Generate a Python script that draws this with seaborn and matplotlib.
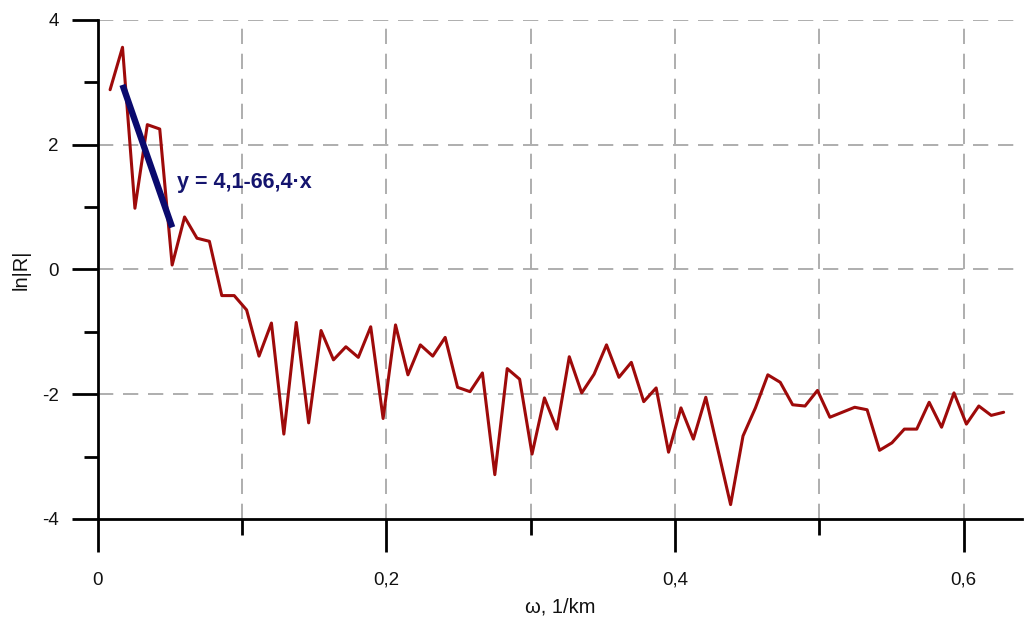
import numpy as np
import pandas as pd
import matplotlib
matplotlib.use("Agg")
import matplotlib.pyplot as plt
from matplotlib.ticker import MultipleLocator, FuncFormatter
import seaborn as sns

# Spectral frequencies, 1/km
omega = [0.0086, 0.0172, 0.0258, 0.0344, 0.0430, 0.0516, 0.0602, 0.0688,
         0.0774, 0.0860, 0.0946, 0.1032, 0.1118, 0.1204, 0.1290, 0.1376,
         0.1462, 0.1548, 0.1634, 0.1720, 0.1806, 0.1892, 0.1978, 0.2064,
         0.2150, 0.2236, 0.2322, 0.2408, 0.2494, 0.2580, 0.2666, 0.2752,
         0.2838, 0.2924, 0.3010, 0.3096, 0.3182, 0.3268, 0.3354, 0.3440,
         0.3526, 0.3612, 0.3698, 0.3784, 0.3870, 0.3956, 0.4042, 0.4128,
         0.4214, 0.4300, 0.4386, 0.4472, 0.4558, 0.4644, 0.4730, 0.4816,
         0.4902, 0.4988, 0.5074, 0.5160, 0.5246, 0.5332, 0.5418, 0.5504,
         0.5590, 0.5676, 0.5762, 0.5848, 0.5934, 0.6020, 0.6106, 0.6192,
         0.6278]

# ln|R| spectrum values
ln_r = [2.88, 3.56, 0.98, 2.32, 2.25, 0.07, 0.84, 0.50,
        0.45, -0.42, -0.42, -0.65, -1.39, -0.86, -2.64, -0.85,
        -2.46, -0.98, -1.45, -1.24, -1.41, -0.92, -2.39, -0.89,
        -1.69, -1.21, -1.39, -1.09, -1.89, -1.96, -1.66, -3.29,
        -1.59, -1.76, -2.96, -2.06, -2.56, -1.40, -1.98, -1.68,
        -1.21, -1.73, -1.49, -2.12, -1.90, -2.93, -2.22, -2.72,
        -2.05, -2.91, -3.77, -2.67, -2.22, -1.69, -1.81, -2.17,
        -2.19, -1.94, -2.37, -2.29, -2.21, -2.25, -2.90, -2.78,
        -2.56, -2.56, -2.13, -2.53, -1.98, -2.48, -2.19, -2.34,
        -2.29]

# Linear fit over the low-frequency part: y = a + b*x
fit_a = 4.1
fit_b = -66.4
fit_range = [0.0172, 0.0516]
fit_label = "y = 4,1-66,4·x"

x_ticks_labels = ["0", "0,2", "0,4", "0,6"]
y_ticks_labels = ["-4", "-2", "0", "2", "4"]

sns.set_theme(style="white")
plt.rcParams["font.family"] = ["Liberation Sans", "DejaVu Sans"]
plt.rcParams["lines.scale_dashes"] = False

fig = plt.figure(figsize=(10.24, 6.2), dpi=100)
ax = fig.add_axes([0.0954, 0.163, 0.9026, 0.805])

spec = pd.DataFrame({"omega": omega, "lnR": ln_r})
sns.lineplot(data=spec, x="omega", y="lnR", ax=ax, color="#9e0a0a",
             linewidth=2.2, zorder=3)

fit_x = np.array(fit_range)
fit = pd.DataFrame({"omega": fit_x, "lnR": fit_a + fit_b * fit_x})
sns.lineplot(data=fit, x="omega", y="lnR", ax=ax, color="#0a0a6e",
             linewidth=4.6, zorder=4, solid_capstyle="butt")

ax.text(0.055, 1.39, fit_label, color="#14146e", fontsize=15.5,
        fontweight="bold", ha="left", va="center", zorder=5)

ax.set_xlim(0, 0.6405)
ax.set_ylim(-4, 4)

ax.xaxis.set_major_locator(MultipleLocator(0.2))
ax.xaxis.set_minor_locator(MultipleLocator(0.1))
ax.yaxis.set_major_locator(MultipleLocator(2))
ax.yaxis.set_minor_locator(MultipleLocator(1))
ax.set_xticks([0, 0.2, 0.4, 0.6])
ax.set_xticklabels(x_ticks_labels)
ax.set_yticks([-4, -2, 0, 2, 4])
ax.set_yticklabels(y_ticks_labels)

# Dashed grid: every 0.1 on x, every 2 on y
for gx in np.arange(0.1, 0.65, 0.1):
    ax.axvline(gx, color="#a8a8a8", linewidth=1.3, linestyle=(0, (11, 7)),
               zorder=1)
for gy in [0, 2, 4]:
    ax.axhline(gy, color="#a8a8a8", linewidth=1.3, linestyle=(0, (11, 7)),
               zorder=1)
ax.axhline(-2, color="#a8a8a8", linewidth=1.3, linestyle=(0, (11, 7)),
           zorder=1)

for side in ["top", "right"]:
    ax.spines[side].set_visible(False)
for side in ["left", "bottom"]:
    ax.spines[side].set_color("black")
    ax.spines[side].set_linewidth(2.0)

ax.tick_params(axis="x", which="major", direction="out", length=24,
               width=2.0, color="black", pad=14, labelsize=13.5,
               labelcolor="#111111", bottom=True)
ax.tick_params(axis="x", which="minor", direction="out", length=11.5,
               width=2.0, color="black", bottom=True)
ax.tick_params(axis="y", which="major", direction="out", length=19,
               width=2.0, color="black", pad=9, labelsize=13.5,
               labelcolor="#111111", left=True)
ax.tick_params(axis="y", which="minor", direction="out", length=10,
               width=2.0, color="black", left=True)

ax.set_xlabel("ω, 1/km", fontsize=14.5, color="#111111", labelpad=6)
ax.set_ylabel("ln|R|", fontsize=14.5, color="#111111", labelpad=8)

fig.savefig("out.png", dpi=100, facecolor="white")
